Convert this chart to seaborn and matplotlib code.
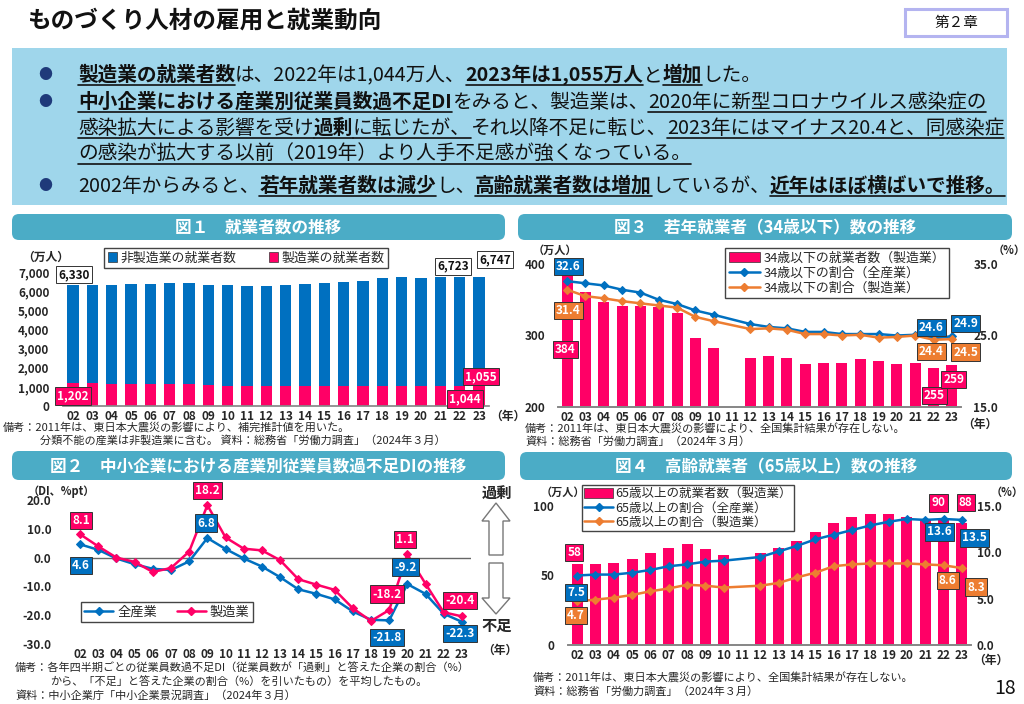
import numpy as np
import pandas as pd
import matplotlib
matplotlib.use("Agg")
import matplotlib.pyplot as plt
import seaborn as sns
from matplotlib.patches import Patch, FancyBboxPatch, Polygon, Rectangle
from matplotlib.lines import Line2D

# ---------------- data ----------------
years = ["02", "03", "04", "05", "06", "07", "08", "09", "10", "11", "12",
         "13", "14", "15", "16", "17", "18", "19", "20", "21", "22", "23"]
pos = list(range(len(years)))
nan = np.nan

# 図1 就業者数 (万人)
total_workers = [6330, 6316, 6329, 6356, 6389, 6427, 6409, 6314, 6298, 6293, 6280,
                 6326, 6371, 6401, 6465, 6530, 6664, 6750, 6710, 6713, 6723, 6747]
mfg_workers = [1202, 1178, 1150, 1142, 1161, 1165, 1144, 1073, 1060, 1049, 1032,
               1039, 1040, 1035, 1045, 1052, 1060, 1063, 1045, 1037, 1044, 1055]

# 図2 従業員数過不足DI
di_all = [4.6, 2.7, -0.3, -2.3, -3.9, -4.3, -1.3, 6.8, 3.0, -0.3, -3.1,
          -6.8, -11.0, -12.6, -14.5, -18.7, -21.6, -21.8, -9.2, -12.6, -19.5, -22.3]
di_mfg = [8.1, 3.9, 0.0, -1.5, -5.0, -3.6, 2.1, 18.2, 7.0, 3.1, 2.5,
          -0.9, -7.5, -9.4, -11.2, -17.6, -22.0, -18.2, 1.1, -9.1, -19.0, -20.4]

# 図3 若年就業者 (34歳以下)
young_mfg = [384, 361, 347, 341, 341, 340, 332, 296, 283, nan, 268,
             271, 269, 260, 261, 262, 267, 264, 260, 262, 255, 259]
young_share_all = [32.6, 32.3, 32.0, 31.4, 31.0, 30.0, 29.4, 28.5, 27.9, nan, 26.6,
                   26.2, 26.0, 25.5, 25.5, 25.2, 25.2, 25.2, 25.0, 25.1, 24.6, 24.9]
young_share_mfg = [31.4, 30.5, 30.2, 29.8, 29.5, 29.2, 28.9, 27.6, 27.0, nan, 25.9,
                   26.0, 25.8, 25.2, 25.2, 25.0, 25.1, 24.7, 24.8, 25.0, 24.4, 24.5]

# 図4 高齢就業者 (65歳以上)
old_mfg = [58, 58, 59, 62, 66, 70, 73, 69, 65, nan, 66,
           70, 75, 81, 88, 92, 94, 94, 92, 91, 90, 88]
old_share_all = [7.5, 7.6, 7.6, 7.8, 8.1, 8.5, 8.7, 9.0, 9.1, nan, 9.5,
                 10.1, 10.7, 11.4, 11.9, 12.4, 12.9, 13.3, 13.6, 13.5, 13.6, 13.5]
old_share_mfg = [4.7, 4.9, 5.1, 5.4, 5.8, 6.1, 6.5, 6.4, 6.2, nan, 6.4,
                 6.7, 7.3, 7.8, 8.5, 8.7, 8.8, 8.8, 8.8, 8.7, 8.6, 8.3]

BLUE = "#0070C0"
PINK = "#FF0066"
ORANGE = "#ED7D31"
TEAL = "#4BACC6"
SKY = "#9FD6EB"
INK = "#111111"

# ---------------- setup ----------------
sns.set_theme(style="white")
plt.rcParams["font.family"] = ["Noto Sans CJK JP", "DejaVu Sans"]

W, H = 1024, 704
fig = plt.figure(figsize=(W / 100, H / 100), dpi=100)
bg = fig.add_axes([0, 0, 1, 1])
bg.set_xlim(0, W)
bg.set_ylim(H, 0)
bg.axis("off")
renderer = fig.canvas.get_renderer()


def rect(l, t, r, b):
    return [l / W, 1 - b / H, (r - l) / W, (b - t) / H]


def tag(ax, txt, x, y, dx, dy, fc, tc="white", xycoords="data"):
    ax.annotate(txt, (x, y), xycoords=xycoords, xytext=(dx, dy), textcoords="offset pixels",
                ha="center", va="center", fontsize=8.5, fontweight="bold", color=tc,
                bbox=dict(boxstyle="square,pad=0.18", fc=fc, ec="#333333", lw=0.7),
                annotation_clip=False, zorder=20)


def bold_ticks(ax):
    for lab in ax.get_xticklabels() + ax.get_yticklabels():
        lab.set_fontweight("bold")


def title_bar(l, t, r, b, txt):
    bg.add_patch(FancyBboxPatch((l, t), r - l, b - t, boxstyle="round,pad=0,rounding_size=7",
                                fc=TEAL, ec="none"))
    bg.text((l + r) / 2, (t + b) / 2 + 1, txt, ha="center", va="center", color="white",
            fontsize=12, fontweight="bold")


# ---------------- header ----------------
bg.text(27, 21, "ものづくり人材の雇用と就業動向", fontsize=17, fontweight="bold",
        va="center", ha="left", color=INK)
bg.add_patch(Rectangle((905, 9), 102, 27, fc="white", ec="#B4B4F0", lw=2.2))
bg.text(956, 23, "第２章", fontsize=10.5, ha="center", va="center", color=INK)
bg.add_patch(Rectangle((12, 48), 995, 157, fc=SKY, ec="none"))

bullets = [
    (81, True, [("製造業の就業者数", 1, 1), ("は、2022年は1,044万人、", 0, 0), ("2023年は1,055万人", 1, 1),
                ("と", 0, 0), ("増加", 1, 1), ("した。", 0, 0)]),
    (108, True, [("中小企業における産業別従業員数過不足DI", 1, 1), ("をみると、製造業は、", 0, 0),
                 ("2020年に新型コロナウイルス感染症の", 0, 1)]),
    (134, False, [("感染拡大による影響を受け", 0, 1), ("過剰", 1, 1), ("に転じたが、", 0, 1),
                  ("それ以降不足に転じ、", 0, 0), ("2023年にはマイナス20.4と、同感染症", 0, 1)]),
    (160, False, [("の感染が拡大する以前（2019年）より人手不足感が強くなっている。", 0, 1)]),
    (192, True, [("2002年からみると、", 0, 0), ("若年就業者数は減少", 1, 1), ("し、", 0, 0),
                 ("高齢就業者数は増加", 1, 1), ("しているが、", 0, 0), ("近年はほぼ横ばいで推移。", 1, 1)]),
]


def measure(segs, fs):
    total = 0
    for s, b, u in segs:
        t = bg.text(0, 0, s, fontsize=fs, fontweight="bold" if b else "normal")
        total += t.get_window_extent(renderer).width
        t.remove()
    return total


fs_b = 13.0 * 907 / measure(bullets[1][2], 13.0)
for base, dot, segs in bullets:
    x = 78
    if dot:
        bg.text(45, base - 6, "●", fontsize=10, color="#1F3A7A", ha="center", va="center")
    for s, b, u in segs:
        t = bg.text(x, base, s, fontsize=fs_b, fontweight="bold" if b else "normal",
                    va="baseline", ha="left", color=INK)
        w = t.get_window_extent(renderer).width
        if u:
            bg.plot([x, x + w], [base + 4, base + 4], color=INK, lw=1.2)
        x += w

# ---------------- chart titles ----------------
title_bar(12, 214, 505, 240, "図１　就業者数の推移")
title_bar(518, 214, 1012, 240, "図３　若年就業者（34歳以下）数の推移")
title_bar(12, 451, 505, 480, "図２　中小企業における産業別従業員数過不足DIの推移")
title_bar(520, 452, 1012, 480, "図４　高齢就業者（65歳以上）数の推移")

# ---------------- 図1 ----------------
ax1 = fig.add_axes(rect(63.3, 272, 488.7, 406))
ax1.patch.set_alpha(0)
sns.barplot(x=pos, y=total_workers, native_scale=True, width=0.6, color=BLUE, saturation=1,
            linewidth=0, errorbar=None, ax=ax1)
sns.barplot(x=pos, y=mfg_workers, native_scale=True, width=0.6, color=PINK, saturation=1,
            linewidth=0, errorbar=None, ax=ax1)
ax1.set_xlim(-0.5, 21.5)
ax1.set_ylim(0, 7000)
c1_yticks = [0, 1000, 2000, 3000, 4000, 5000, 6000, 7000]
ax1.set_yticks(c1_yticks, [f"{v:,}" for v in c1_yticks])
ax1.set_xticks(pos, years)
ax1.tick_params(length=0, labelsize=8.5)
ax1.tick_params(axis="y", pad=10)
ax1.tick_params(axis="x", pad=3)
sns.despine(ax=ax1, left=True)
ax1.spines["bottom"].set_color("#888888")
bold_ticks(ax1)
tag(ax1, "6,330", 0, total_workers[0], 1, 10, "white", INK)
tag(ax1, "6,723", 20, total_workers[20], -7, 11, "white", INK)
tag(ax1, "6,747", 21, total_workers[21], 16, 17, "white", INK)
tag(ax1, "1,202", 0, mfg_workers[0], 0, -13, PINK)
tag(ax1, "1,044", 20, mfg_workers[20], 5, -13, PINK)
tag(ax1, "1,055", 21, mfg_workers[21], 2, 9, PINK)
ax1.legend(handles=[Patch(fc=BLUE, ec="#333333", lw=0.5, label="非製造業の就業者数"),
                    Patch(fc=PINK, ec="#333333", lw=0.5, label="製造業の就業者数")],
           loc="center", bbox_to_anchor=(246 / W, 1 - 258 / H), bbox_transform=fig.transFigure,
           ncol=2, fancybox=False, edgecolor="#444444", fontsize=9.3, handlelength=0.7,
           handleheight=0.7, columnspacing=2.5, borderpad=0.25, handletextpad=0.3, framealpha=1)
bg.text(22, 257, "（万人）", fontsize=8.5, fontweight="bold", va="center")
bg.text(490, 416, "（年）", fontsize=8.5, fontweight="bold", va="center")
bg.text(3, 427, "備考：2011年は、東日本大震災の影響により、補完推計値を用いた。", fontsize=8, va="center")
bg.text(40, 440, "分類不能の産業は非製造業に含む。 資料：総務省「労働力調査」（2024年３月）", fontsize=8, va="center")

# ---------------- 図2 ----------------
ax2 = fig.add_axes(rect(71, 500, 471, 644))
ax2.patch.set_alpha(0)
ax2.axhline(0, color="#666666", lw=1)
sns.lineplot(x=pos, y=di_all, color=BLUE, lw=1.8, marker="D", markersize=4.5,
             markeredgecolor=BLUE, ax=ax2)
sns.lineplot(x=pos, y=di_mfg, color=PINK, lw=1.8, marker="D", markersize=4.5,
             markeredgecolor=PINK, ax=ax2)
ax2.set_xlim(-0.5, 21.5)
ax2.set_ylim(-30, 20)
c2_yticks = [-30, -20, -10, 0, 10, 20]
ax2.set_yticks(c2_yticks, [f"{v:.1f}" for v in c2_yticks])
ax2.set_xticks(pos, years)
ax2.tick_params(length=0, labelsize=8.5)
ax2.tick_params(axis="y", pad=14)
ax2.tick_params(axis="x", pad=3)
sns.despine(ax=ax2, left=True, bottom=True)
bold_ticks(ax2)
tag(ax2, "8.1", 0, di_mfg[0], 1, 14, PINK)
tag(ax2, "4.6", 0, di_all[0], 1, -21, BLUE)
tag(ax2, "18.2", 7, di_mfg[7], 0, 15, PINK)
tag(ax2, "6.8", 7, di_all[7], -1, 15, BLUE)
tag(ax2, "1.1", 18, di_mfg[18], -2, 15, PINK)
tag(ax2, "-9.2", 18, di_all[18], -2, 17, BLUE)
tag(ax2, "-18.2", 17, di_mfg[17], -2, 16, PINK)
tag(ax2, "-21.8", 17, di_all[17], -2, -17, BLUE)
tag(ax2, "-20.4", 21, di_mfg[21], -2, 16, PINK)
tag(ax2, "-22.3", 21, di_all[21], -2, -12, BLUE)
ax2.legend(handles=[Line2D([], [], color=BLUE, lw=1.8, marker="D", markersize=4.5, label="全産業"),
                    Line2D([], [], color=PINK, lw=1.8, marker="D", markersize=4.5, label="製造業")],
           loc="center", bbox_to_anchor=(167 / W, 1 - 612 / H), bbox_transform=fig.transFigure,
           ncol=2, fancybox=False, edgecolor="#444444", fontsize=9.5, handlelength=2.2,
           columnspacing=1.5, borderpad=0.25, handletextpad=0.3, framealpha=1)
bg.text(28, 491, "（DI、%pt）", fontsize=8, fontweight="bold", va="center")
bg.text(482, 650, "（年）", fontsize=8.5, fontweight="bold", va="center")
bg.add_patch(Polygon([(496, 503), (482, 521), (489, 521), (489, 555), (503, 555), (503, 521), (510, 521)],
                     closed=True, fc="white", ec="#777777", lw=1))
bg.add_patch(Polygon([(489, 563), (503, 563), (503, 598), (510, 598), (496, 614), (482, 598), (489, 598)],
                     closed=True, fc="white", ec="#777777", lw=1))
bg.text(497, 494, "過剰", fontsize=11, fontweight="bold", ha="center", va="center")
bg.text(497, 626, "不足", fontsize=11, fontweight="bold", ha="center", va="center")
bg.text(15, 668, "備考：各年四半期ごとの従業員数過不足DI（従業員数が「過剰」と答えた企業の割合（%）", fontsize=8, va="center")
bg.text(50, 682, "から、「不足」と答えた企業の割合（%）を引いたもの）を平均したもの。", fontsize=8, va="center")
bg.text(15, 696, "資料：中小企業庁「中小企業景況調査」（2024年３月）", fontsize=8, va="center")


# ---------------- 図3 / 図4 (bar + two ratio lines) ----------------
def combo(box, bars, share_all, share_mfg, ylim_l, ylim_r, yt_l, yt_r, labels, pad_l, pad_r):
    ax = fig.add_axes(rect(*box))
    ax.patch.set_alpha(0)
    df = pd.DataFrame({"x": pos, "bar": bars, "all": share_all, "mfg": share_mfg}).dropna()
    sns.barplot(data=df, x="x", y="bar", native_scale=True, width=0.6, color=PINK, saturation=1,
                linewidth=0, errorbar=None, ax=ax)
    ax.set_xlim(-0.5, 21.5)
    ax.set_ylim(*ylim_l)
    ax.set_yticks(yt_l, [str(v) for v in yt_l])
    ax.set_xticks(pos, years)
    ax.set_xlabel("")
    ax.set_ylabel("")
    axr = ax.twinx()
    sns.lineplot(data=df, x="x", y="all", color=BLUE, lw=1.8, marker="D", markersize=4,
                 markeredgecolor=BLUE, ax=axr)
    sns.lineplot(data=df, x="x", y="mfg", color=ORANGE, lw=1.8, marker="D", markersize=4,
                 markeredgecolor=ORANGE, ax=axr)
    axr.set_ylim(*ylim_r)
    axr.set_yticks(yt_r, [f"{v:.1f}" for v in yt_r])
    axr.set_xlabel("")
    axr.set_ylabel("")
    for a in (ax, axr):
        a.tick_params(length=0, labelsize=8.5)
        sns.despine(ax=a, left=True, right=True)
        a.spines["bottom"].set_color("#888888")
        bold_ticks(a)
    ax.tick_params(axis="y", pad=pad_l)
    axr.tick_params(axis="y", pad=pad_r)
    ax.tick_params(axis="x", pad=3)
    handles = [Patch(fc=PINK, ec="#333333", lw=0.5, label=labels[0]),
               Line2D([], [], color=BLUE, lw=1.8, marker="D", markersize=4, label=labels[1]),
               Line2D([], [], color=ORANGE, lw=1.8, marker="D", markersize=4, label=labels[2])]
    return ax, axr, handles


ax3, ax3r, h3 = combo((558, 264, 961, 407), young_mfg, young_share_all, young_share_mfg,
                      (200, 400), (15, 35), [200, 300, 400], [15, 25, 35],
                      ["34歳以下の就業者数（製造業）", "34歳以下の割合（全産業）", "34歳以下の割合（製造業）"], 9, 9)
ax3r.legend(handles=h3, loc="center", bbox_to_anchor=(837 / W, 1 - 273 / H), bbox_transform=fig.transFigure,
            fancybox=False, edgecolor="#444444", fontsize=9.3, handlelength=2.4, handleheight=0.9,
            borderpad=0.3, labelspacing=0.15, handletextpad=0.3, framealpha=1)
tag(ax3r, "32.6", 0, young_share_all[0], 1, 15, BLUE)
tag(ax3r, "31.4", 0, young_share_mfg[0], 1, -21, ORANGE)
tag(ax3r, "384", 0, young_mfg[0], -2, -74, PINK, xycoords=ax3.transData)
tag(ax3r, "24.6", 20, young_share_all[20], -2, 11, BLUE)
tag(ax3r, "24.9", 21, young_share_all[21], 14, 13, BLUE)
tag(ax3r, "24.4", 20, young_share_mfg[20], -2, -12, ORANGE)
tag(ax3r, "24.5", 21, young_share_mfg[21], 14, -13, ORANGE)
tag(ax3r, "255", 20, young_mfg[20], 1, -28, PINK, xycoords=ax3.transData)
tag(ax3r, "259", 21, young_mfg[21], 2, -15, PINK, xycoords=ax3.transData)
bg.text(533, 250, "（万人）", fontsize=8, fontweight="bold", va="center")
bg.text(993, 250, "（%）", fontsize=8, fontweight="bold", va="center")
bg.text(962, 424, "（年）", fontsize=8.5, fontweight="bold", va="center")
bg.text(525, 429, "備考：2011年は、東日本大震災の影響により、全国集計結果が存在しない。", fontsize=8, va="center")
bg.text(525, 442, "資料：総務省「労働力調査」（2024年３月）", fontsize=8, va="center")

ax4, ax4r, h4 = combo((568, 506, 971, 645), old_mfg, old_share_all, old_share_mfg,
                      (0, 100), (0, 15), [0, 50, 100], [0, 5, 10, 15],
                      ["65歳以上の就業者数（製造業）", "65歳以上の割合（全産業）", "65歳以上の割合（製造業）"], 10, 4)
ax4r.legend(handles=h4, loc="center", bbox_to_anchor=(688 / W, 1 - 508 / H), bbox_transform=fig.transFigure,
            fancybox=False, edgecolor="#444444", fontsize=9, handlelength=2.3, handleheight=0.9,
            borderpad=0.2, labelspacing=0.1, handletextpad=0.2, framealpha=1)
tag(ax4r, "58", 0, old_mfg[0], -3, 12, PINK, xycoords=ax4.transData)
tag(ax4r, "7.5", 0, old_share_all[0], -1, -17, BLUE)
tag(ax4r, "4.7", 0, old_share_mfg[0], -1, -14, ORANGE)
tag(ax4r, "90", 20, old_mfg[20], -5, 17, PINK, xycoords=ax4.transData)
tag(ax4r, "88", 21, old_mfg[21], 4, 20, PINK, xycoords=ax4.transData)
tag(ax4r, "13.6", 20, old_share_all[20], -4, -13, BLUE)
tag(ax4r, "13.5", 21, old_share_all[21], 13, -18, BLUE)
tag(ax4r, "8.6", 20, old_share_mfg[20], 4, -15, ORANGE)
tag(ax4r, "8.3", 21, old_share_mfg[21], 14, -19, ORANGE)
bg.text(541, 492, "（万人）", fontsize=8, fontweight="bold", va="center")
bg.text(991, 492, "（%）", fontsize=8, fontweight="bold", va="center")
bg.text(973, 660, "（年）", fontsize=8.5, fontweight="bold", va="center")
bg.text(533, 678, "備考：2011年は、東日本大震災の影響により、全国集計結果が存在しない。", fontsize=8, va="center")
bg.text(533, 692, "資料：総務省「労働力調査」（2024年３月）", fontsize=8, va="center")

bg.text(1005, 689, "18", fontsize=14, ha="center", va="center", color=INK)

fig.savefig("out.png", dpi=100)
